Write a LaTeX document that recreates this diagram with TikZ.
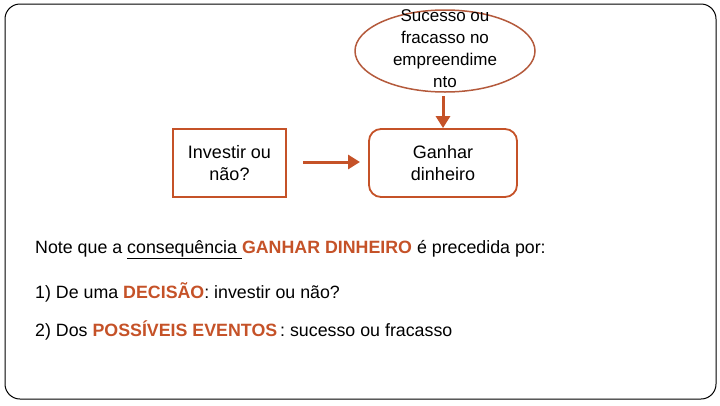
\documentclass[tikz,border=0pt]{standalone}
\usepackage{fontspec}
\setmainfont{Liberation Sans}
\usetikzlibrary{shapes.geometric,arrows.meta}
\definecolor{accent}{RGB}{197,82,40}
\definecolor{ellcol}{RGB}{180,90,60}
\tikzset{
  txt/.style={font=\fontsize{18}{22}\selectfont, align=center, text=black},
  etxt/.style={font=\fontsize{17}{22}\selectfont, align=center, text=black},
  boxnode/.style={draw=accent, line width=1.8pt, minimum width=113pt, minimum height=68pt},
  rbox/.style={boxnode, rounded corners=12pt, minimum width=148pt},
  arr/.style={draw=accent, line width=3pt, -{Triangle[length=12pt,width=14pt]}},
  body/.style={font=\fontsize{17.8}{19}\selectfont, anchor=base west, inner sep=0pt}
}
\begin{document}
\begin{tikzpicture}[x=1pt,y=-1pt]
\useasboundingbox (0,0) rectangle (720,405);
\draw[black, line width=1pt, rounded corners=15pt] (5,4) rectangle (716,399);
\node[draw=ellcol, line width=1.5pt, ellipse, minimum width=180pt, minimum height=82pt] (ell) at (445,51) {};
\node[etxt] (elltxt) at (445,49) {Sucesso ou\\fracasso no\\empreendime\\nto};
\node[boxnode, txt] (inv) at (229.5,163) {Investir ou\\não?};
\node[rbox, txt] (gan) at (443,163) {Ganhar\\dinheiro};
\coordinate (hs) at (303,162);
\coordinate (he) at (360,162);
\draw[arr] (hs) -- (he);
\coordinate (dtop) at (443,96);
\draw[arr] (dtop) -- (gan.north);
\node[body] (l1) at (35,253) {Note que a \underline{consequência\ }\textcolor{accent}{\textbf{GANHAR DINHEIRO}} é precedida por:};
\node[body] (l2) at (35,298) {1) De uma \textcolor{accent}{\textbf{DECISÃO}}: investir ou não?};
\node[body] (l3) at (35,336) {2) Dos \textcolor{accent}{\textbf{POSSÍVEIS EVENTOS}}\,: sucesso ou fracasso};
\end{tikzpicture}
\end{document}
